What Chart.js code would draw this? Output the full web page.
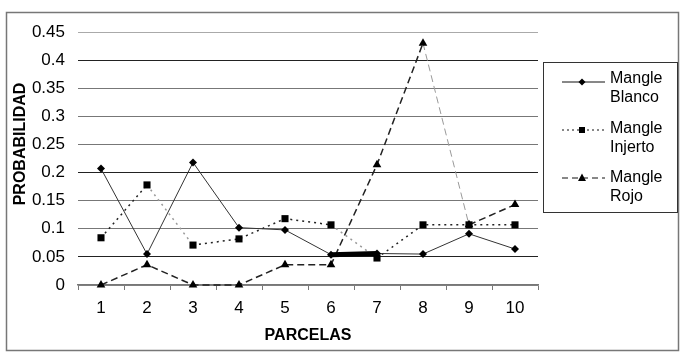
<!DOCTYPE html>
<html>
<head>
<meta charset="utf-8">
<script src="https://cdn.jsdelivr.net/npm/chart.js@4"></script>
<style>
  body { margin: 0; background: #fff; }
</style>
</head>
<body>
<canvas id="parcelas" width="686" height="357"></canvas>
<script>
// data
var parcelas = ['1', '2', '3', '4', '5', '6', '7', '8', '9', '10'];
var mangleBlanco = [0.207, 0.055, 0.218, 0.102, 0.098, 0.054, 0.056, 0.055, 0.091, 0.064];
var mangleInjerto = [0.084, 0.178, 0.071, 0.082, 0.118, 0.107, 0.048, 0.107, 0.107, 0.107];
var mangleRojo = [0, 0.036, 0, 0, 0.036, 0.036, 0.214, 0.43, 0.107, 0.143];
var yTickLabels = ['0', '0.05', '0.1', '0.15', '0.2', '0.25', '0.3', '0.35', '0.4', '0.45'];
var seriesNames = [['Mangle', 'Blanco'], ['Mangle', 'Injerto'], ['Mangle', 'Rojo']];

var gridColors = ['#888', '#222', '#777', '#777', '#222', '#777', '#777', '#777', '#222', '#aaa'];
var font = 'Liberation Sans, Arial, sans-serif';

// frame, y title and the boxed legend
var decor = {
    id: 'decor',
    afterDraw: function (chart) {
        var c = chart.ctx;
        c.save();
        c.strokeStyle = '#777';
        c.lineWidth = 1.5;
        c.strokeRect(6.5, 12.5, 672, 338);

        c.fillStyle = '#000';
        c.font = 'bold 16px ' + font;
        c.textAlign = 'center';
        c.textBaseline = 'middle';
        c.translate(21, 144);
        c.rotate(-Math.PI / 2);
        c.fillText('PROBABILIDAD', 0, 0);
        c.restore();

        c.save();
        c.strokeStyle = '#333';
        c.lineWidth = 1;
        c.fillStyle = '#fff';
        c.fillRect(543.5, 62.5, 134, 150);
        c.strokeRect(543.5, 62.5, 134, 150);

        var dashes = [[], [2, 3], [6, 4]];
        var rowY = [82, 130, 178];
        var baseY = [[83, 102], [133, 152], [182, 201]];
        c.font = '16px ' + font;
        c.fillStyle = '#000';
        c.textAlign = 'left';
        c.textBaseline = 'alphabetic';
        for (var i = 0; i < 3; i++) {
            var y = rowY[i];
            c.strokeStyle = '#111';
            c.lineWidth = 1;
            c.setLineDash(dashes[i]);
            c.beginPath();
            c.moveTo(562, y);
            c.lineTo(605, y);
            c.stroke();
            c.setLineDash([]);
            c.fillStyle = '#000';
            c.beginPath();
            if (i === 0) {
                c.moveTo(582 - 3.5, y); c.lineTo(582, y - 3.5); c.lineTo(582 + 3.5, y); c.lineTo(582, y + 3.5);
            } else if (i === 1) {
                c.rect(579, y - 3, 6, 6);
            } else {
                c.moveTo(582, y - 4.5); c.lineTo(586, y + 3); c.lineTo(578, y + 3);
            }
            c.closePath();
            c.fill();
            c.fillText(seriesNames[i][0], 610, baseY[i][0]);
            c.fillText(seriesNames[i][1], 610, baseY[i][1]);
        }
        c.restore();
    }
};

var ctx = document.getElementById('parcelas');
var parcelasChart = new Chart(ctx, {
    type: 'line',
    data: {
        labels: parcelas,
        datasets: [{
            label: 'Mangle Blanco',
            data: mangleBlanco,
            borderColor: '#333',
            backgroundColor: '#000',
            borderWidth: 1,
            pointStyle: 'rectRot',
            pointRadius: 4,
            pointBorderWidth: 0,
            segment: {
                borderWidth: function (s) { return s.p0DataIndex === 5 ? 5 : 1; },
                borderColor: function (s) { return s.p0DataIndex === 5 ? '#000' : '#333'; }
            },
            clip: false
        }, {
            label: 'Mangle Injerto',
            data: mangleInjerto,
            borderColor: '#222',
            backgroundColor: '#000',
            borderWidth: 1.5,
            borderDash: [2, 4],
            pointStyle: 'rect',
            pointRadius: 5,
            pointBorderWidth: 0,
            segment: {
                borderColor: function (s) { return (s.p0DataIndex === 1 || s.p0DataIndex === 5) ? '#999' : '#222'; }
            },
            clip: false
        }, {
            label: 'Mangle Rojo',
            data: mangleRojo,
            borderColor: '#222',
            backgroundColor: '#000',
            borderWidth: 1.5,
            borderDash: [7, 4],
            pointStyle: 'triangle',
            pointRadius: 5,
            pointBorderWidth: 0,
            segment: {
                borderColor: function (s) { return s.p0DataIndex === 7 ? '#999' : '#222'; },
                borderWidth: function (s) { return s.p0DataIndex === 7 ? 1 : 1.5; }
            },
            clip: false
        }]
    },
    options: {
        responsive: false,
        animation: false,
        layout: { padding: { top: 32, right: 148, left: 0, bottom: 0 } },
        plugins: {
            legend: { display: false },
            tooltip: { enabled: false }
        },
        scales: {
            x: {
                offset: true,
                afterFit: function (scale) { scale.height = 72; },
                grid: {
                    offset: true,
                    drawOnChartArea: false,
                    drawTicks: true,
                    tickLength: 5,
                    color: '#777'
                },
                border: { display: true, color: '#777', width: 1.5 },
                ticks: {
                    color: '#000',
                    font: { family: font, size: 17 },
                    padding: 8,
                    maxRotation: 0
                },
                title: {
                    display: true,
                    text: 'PARCELAS',
                    color: '#000',
                    font: { family: font, size: 16, weight: 'bold' },
                    padding: { top: 0, bottom: 12 }
                }
            },
            y: {
                min: 0,
                max: 0.45,
                afterFit: function (scale) { scale.width = 78; },
                grid: {
                    drawTicks: false,
                    lineWidth: 1,
                    color: function (c) { return gridColors[c.index]; }
                },
                border: { display: false },
                ticks: {
                    stepSize: 0.05,
                    padding: 13,
                    color: '#000',
                    font: { family: font, size: 17 },
                    callback: function (value, index) { return yTickLabels[index]; }
                }
            }
        }
    },
    plugins: [decor]
});
</script>
</body>
</html>
